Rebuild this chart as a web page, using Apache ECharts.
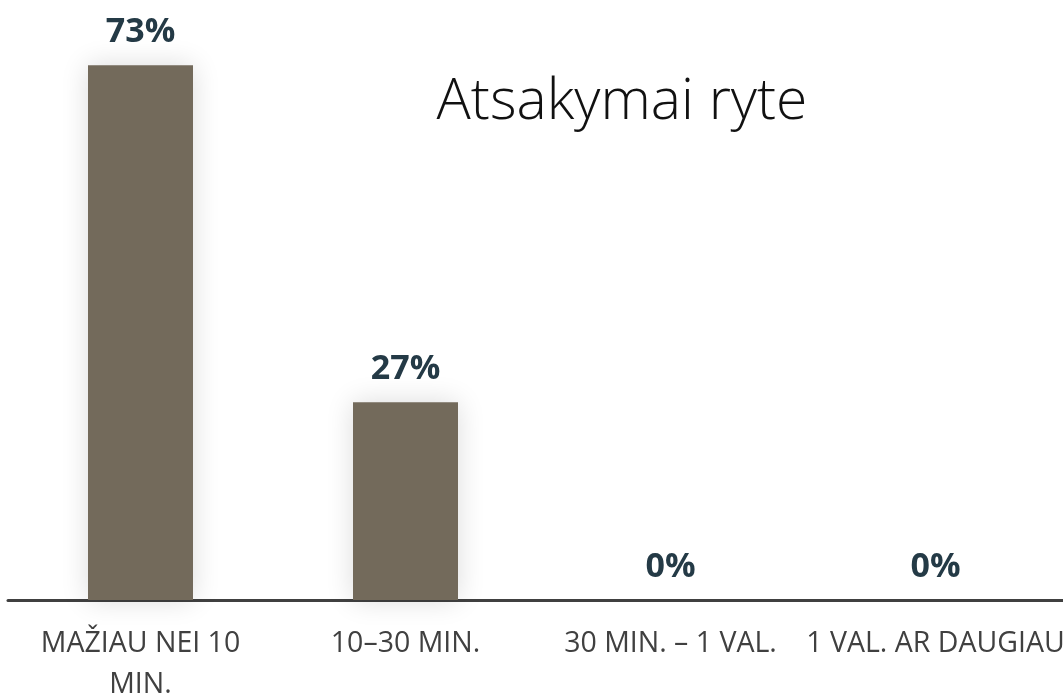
<!DOCTYPE html>
<html>
<head>
<meta charset="utf-8">
<script src="https://cdn.jsdelivr.net/npm/echarts@6/dist/echarts.min.js"></script>
<style>
  html, body { margin: 0; padding: 0; background: #ffffff; }
  #chart { width: 1063px; height: 693px; }
</style>
</head>
<body>
<div id="chart"></div>
<script>
// Response-time categories and shares (percent)
const categories = ['MAŽIAU NEI 10\nMIN.', '10–30 MIN.', '30 MIN. – 1 VAL.', '1 VAL. AR DAUGIAU'];
const shares = [73, 27, 0, 0];
const titleText = 'Atsakymai ryte';

const chart = echarts.init(document.getElementById('chart'));

chart.setOption({
  backgroundColor: '#ffffff',
  animation: false,
  title: {
    text: titleText,
    left: 617,
    top: 69,
    textAlign: 'center',
    textStyle: {
      fontFamily: 'Open Sans',
      fontWeight: 300,
      fontSize: 57,
      color: '#111111'
    }
  },
  grid: {
    left: 8,
    right: -5,
    top: 14,
    bottom: 93,
    outerBoundsMode: 'none',
    containLabel: false
  },
  xAxis: {
    type: 'category',
    data: categories,
    axisTick: { show: false },
    axisLine: { lineStyle: { color: '#404040', width: 3 } },
    axisLabel: {
      fontFamily: 'Open Sans',
      fontSize: 28.5,
      color: '#404040',
      margin: 23,
      lineHeight: 41,
      interval: 0
    }
  },
  yAxis: {
    type: 'value',
    min: 0,
    max: 80,
    show: false,
    splitLine: { show: false }
  },
  series: [{
    type: 'bar',
    data: shares,
    barWidth: 105,
    itemStyle: {
      color: '#736a5b',
      shadowColor: 'rgba(0,0,0,0.14)',
      shadowBlur: 26
    },
    label: {
      show: true,
      position: 'top',
      distance: 16,
      formatter: '{c}%',
      fontFamily: 'Open Sans',
      fontWeight: 'bold',
      fontSize: 34,
      color: '#243a46'
    }
  }]
});
</script>
</body>
</html>
